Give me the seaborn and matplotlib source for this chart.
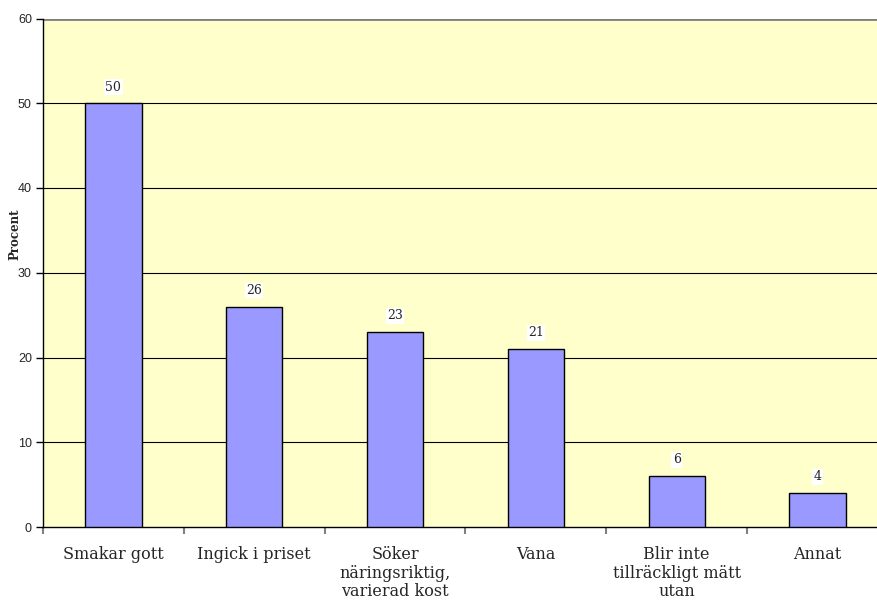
import matplotlib
matplotlib.use("Agg")
import matplotlib.pyplot as plt
import seaborn as sns
import pandas as pd
import numpy as np

categories = ["Smakar gott", "Ingick i priset", "Söker\nnäringsriktig,\nvarierad kost",
              "Vana", "Blir inte\ntillräckligt mätt\nutan", "Annat"]
values = [50, 26, 23, 21, 6, 4]
y_ticks = [0, 10, 20, 30, 40, 50, 60]

df = pd.DataFrame({"kategori": categories, "procent": values})

sns.set_style("white")
fig = plt.figure(figsize=(8.77, 6.03), dpi=100)
ax = fig.add_axes([43 / 877, 76 / 603, 845 / 877, 508.5 / 603])
ax.set_facecolor("#FFFFCC")

sns.barplot(data=df, x="kategori", y="procent", color="#9999FF", width=0.4,
            edgecolor="black", linewidth=1.0, saturation=1, ax=ax, zorder=3)

ax.set_ylim(0, 60)
ax.set_xlim(-0.5, len(categories) - 0.5)
ax.set_yticks(y_ticks)
ax.set_yticklabels([str(t) for t in y_ticks], fontsize=9, family="Liberation Sans")
for t in y_ticks[1:-1]:
    ax.axhline(t, color="black", lw=0.8, zorder=1)
ax.axhline(60, color="#808080", lw=2, zorder=1)

ax.set_xticks(range(len(categories)))
ax.set_xticklabels(categories, fontsize=11.5, family="DejaVu Serif", linespacing=1.1)
ax.tick_params(axis="x", which="major", length=0, pad=14, bottom=True)
ax.set_xticks(np.arange(-0.5, len(categories)), minor=True)
ax.tick_params(axis="x", which="minor", length=5, color="#808080", width=1.5, bottom=True)
ax.tick_params(axis="y", length=5, width=1, color="black", direction="out", pad=3, left=True)

for s in ["top", "right"]:
    ax.spines[s].set_visible(False)
ax.spines["left"].set_color("black")
ax.spines["bottom"].set_color("black")
ax.spines["left"].set_linewidth(1)
ax.spines["bottom"].set_linewidth(1)

ax.set_xlabel("")
ax.set_ylabel("Procent", fontsize=8.5, family="DejaVu Serif", fontweight="bold")
ax.yaxis.set_label_coords(-0.026, 0.575)

for i, v in enumerate(values):
    ax.annotate(str(v), (i, v), xytext=(0, 7), textcoords="offset points",
                ha="center", va="bottom", fontsize=9, family="DejaVu Serif",
                bbox=dict(boxstyle="square,pad=0.1", fc="white", ec="none"), zorder=5)

fig.savefig("out.png", dpi=100)
